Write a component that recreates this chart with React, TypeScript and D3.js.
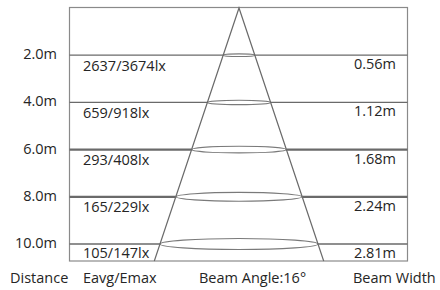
import React from "react";
import * as d3 from "d3";

const distances = [2, 4, 6, 8, 10];
const distanceLabels = ["2.0m", "4.0m", "6.0m", "8.0m", "10.0m"];
const illuminance = ["2637/3674lx", "659/918lx", "293/408lx", "165/229lx", "105/147lx"];
const beamWidths = [0.56, 1.12, 1.68, 2.24, 2.81];
const beamWidthLabels = ["0.56m", "1.12m", "1.68m", "2.24m", "2.81m"];
const lineWeights = [1.3, 1.3, 2.2, 2.2, 1.3];
const footer = [
  { text: "Distance", x: 10 },
  { text: "Eavg/Emax", x: 83 },
  { text: "Beam Angle:16°", x: 199 },
  { text: "Beam Width", x: 353 },
];

const W = 440;
const H = 290;
const box = { left: 69.5, right: 407.5, top: 7.5, bottom: 261 };
const apexX = 239;

export default function App() {
  const y = d3.scaleLinear().domain([0, 10]).range([8, 244]);
  const maxDist = y.invert(box.bottom);
  // half-width of cone in px as function of distance
  const half = d3.scaleLinear().domain([0, 10]).range([0, 79]);
  // ellipse half width driven by beam width
  const rxScale = d3.scaleLinear().domain([0, 2.81]).range([0, 79]);
  const font = "'Open Sans', 'Noto Sans', sans-serif";
  const textColor = "#252525";
  const lineColor = "#6a6a6a";

  const coneLine = d3.line<[number, number]>()([
    [apexX - half(maxDist), box.bottom],
    [apexX, y(0)],
    [apexX + half(maxDist), box.bottom],
  ]);

  return (
    <svg
      width={W}
      height={H}
      style={{ position: "absolute", left: 0, top: 0, background: "#fff" }}
      fontFamily={font}
    >
      <rect
        x={box.left}
        y={box.top}
        width={box.right - box.left}
        height={box.bottom - box.top}
        fill="none"
        stroke="#8a8a8a"
        strokeWidth={1.2}
      />
      {distances.map((d, i) => {
        const yy = y(d);
        const hw = half(d);
        return (
          <g key={d}>
            <line x1={box.left} x2={apexX - hw} y1={yy} y2={yy} stroke={lineColor} strokeWidth={lineWeights[i]} />
            <line x1={apexX + hw} x2={box.right} y1={yy} y2={yy} stroke={lineColor} strokeWidth={lineWeights[i]} />
            <ellipse
              cx={apexX}
              cy={yy}
              rx={rxScale(beamWidths[i])}
              ry={Math.max(1.3, rxScale(beamWidths[i]) * 0.07)}
              fill="none"
              stroke="#7a7a7a"
              strokeWidth={1.1}
            />
            <text x={57} y={yy + 4} textAnchor="end" fontSize={14.5} fill={textColor}>
              {distanceLabels[i]}
            </text>
            <text x={83} y={Math.min(yy + 15.5, box.bottom - 3)} fontSize={14.5} fill={textColor}>
              {illuminance[i]}
            </text>
            <text x={396} y={Math.min(yy + 14, box.bottom - 3)} textAnchor="end" fontSize={14.5} fill={textColor}>
              {beamWidthLabels[i]}
            </text>
          </g>
        );
      })}
      <path d={coneLine || ""} fill="none" stroke={lineColor} strokeWidth={1.2} />
      {footer.map((f) => (
        <text key={f.text} x={f.x} y={283} fontSize={14.5} fill={textColor}>
          {f.text}
        </text>
      ))}
    </svg>
  );
}
